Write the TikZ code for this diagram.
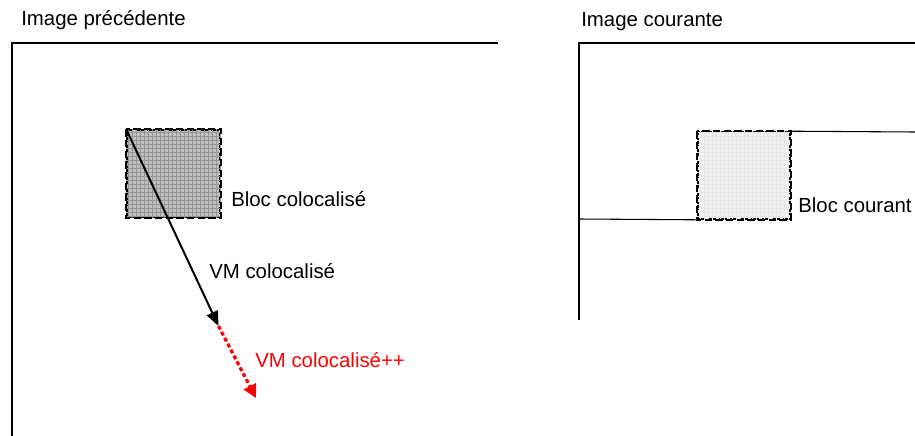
\documentclass[tikz,border=0pt]{standalone}
\usepackage{fontspec}
\setmainfont{Liberation Sans}
\usepackage{tikz}
\usetikzlibrary{patterns}
\usetikzlibrary{arrows.meta}

\tikzset{
  cadre/.style={line width=1.5pt},
  trait/.style={line width=0.8pt},
  bloc/.style={draw, line width=1.2pt, dash pattern=on 5.5pt off 2.5pt, inner sep=0pt},
  etiquette/.style={anchor=west, inner sep=0.75pt, font=\fontsize{15.3}{18}\selectfont},
}

\begin{document}
\begin{tikzpicture}[x=0.75pt,y=0.75pt,yscale=-1,xscale=1]
\useasboundingbox (0,0) rectangle (915,436);

% Image precedente
\draw  [cadre] (12,436) -- (12,43) -- (498,43) ;
\node (titreG) [etiquette] at (20,20) {Image précédente};

% Bloc colocalise
\node (blocCol) [bloc, fill={rgb, 255:red, 192; green, 192; blue, 192 }, minimum width=69.75pt, minimum height=65.25pt] at (173.5,173.5) {};
\fill [pattern=grid, pattern color={rgb, 255:red, 150; green, 150; blue, 150 }] (blocCol.north west) rectangle (blocCol.south east);
\draw [bloc] (blocCol.north west) rectangle (blocCol.south east);
\node (txtBlocCol) [etiquette] at (230,199) {Bloc colocalisé};

% VM colocalise
\coordinate (finVM) at (218.5,326);
\coordinate (finVMpp) at (256,398);
\draw [line width=1.5pt, -{Triangle[length=11pt, width=9pt]}] (blocCol.north west) -- (finVM) ;
\draw [draw={rgb, 255:red, 255; green, 0; blue, 0 }, line width=2.4pt, dash pattern=on 3pt off 2pt, -{Triangle[length=10pt, width=10pt, fill={rgb, 255:red, 255; green, 0; blue, 0 }]}] (finVM) -- (finVMpp) ;
\node (txtVM) [etiquette] at (208,271) {VM colocalisé};
\node (txtVMpp) [etiquette, text={rgb, 255:red, 255; green, 0; blue, 0 }] at (254,360) {VM colocalisé++};

% Image courante
\draw  [cadre] (579,320) -- (579,43) -- (915,43) ;
\node (titreD) [etiquette] at (580,22) {Image courante};

% Bloc courant
\node (blocCour) [bloc, fill={rgb, 255:red, 242; green, 242; blue, 242 }, minimum width=69pt, minimum height=65.25pt] at (744,175.5) {};
\fill [pattern=grid, pattern color={rgb, 255:red, 232; green, 232; blue, 232 }] (blocCour.north west) rectangle (blocCour.south east);
\draw [bloc] (blocCour.north west) rectangle (blocCour.south east);
\node (txtBlocCour) [etiquette] at (797,205) {Bloc courant};

\coordinate (bordG) at (579,219);
\coordinate (bordD) at (915,132);
\draw [trait] (bordG) -- (blocCour.south west) ;
\draw [trait] (blocCour.north east) -- (bordD) ;

\end{tikzpicture}
\end{document}
